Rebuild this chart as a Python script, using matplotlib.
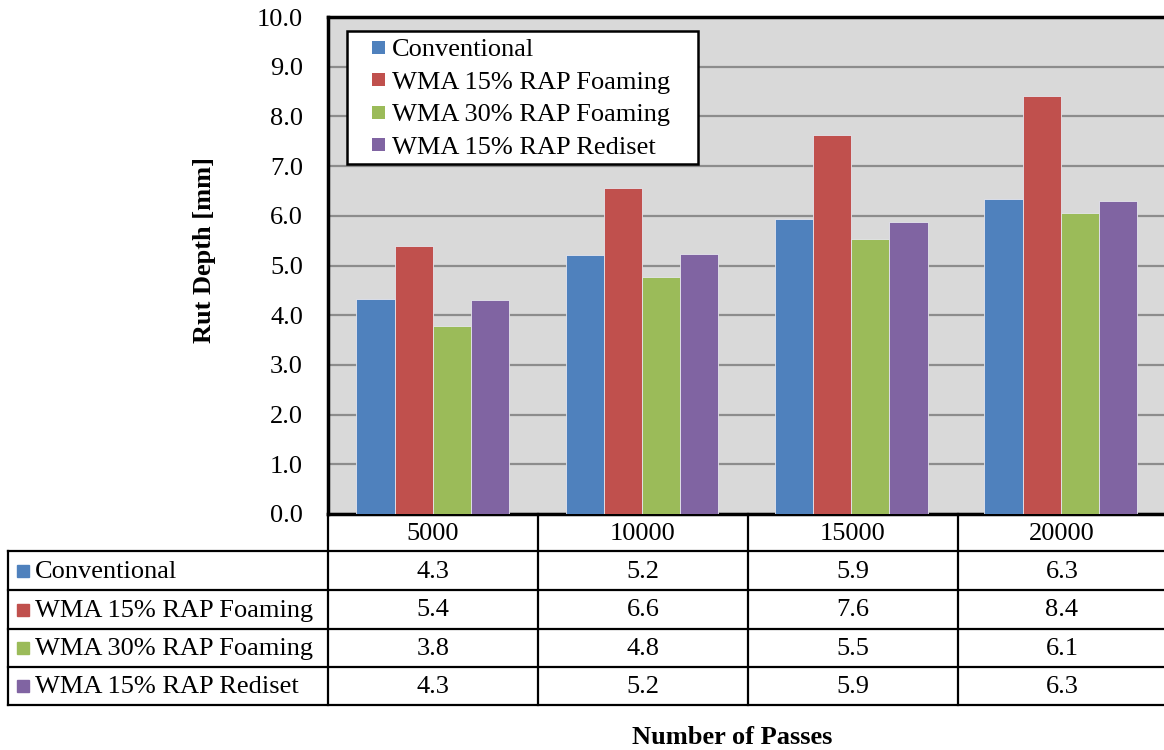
import numpy as np
import matplotlib.pyplot as plt
from matplotlib.patches import Rectangle
from matplotlib.legend_handler import HandlerPatch

passes = ['5000', '10000', '15000', '20000']
series = ['Conventional', 'WMA 15% RAP Foaming', 'WMA 30% RAP Foaming', 'WMA 15% RAP Rediset']
conventional = [4.33, 5.21, 5.94, 6.34]
wma15_foam = [5.39, 6.56, 7.63, 8.41]
wma30_foam = [3.78, 4.77, 5.53, 6.06]
wma15_rediset = [4.31, 5.23, 5.88, 6.30]
colors = ['#4f81bd', '#c0504d', '#9bbb59', '#8064a2']

values = [conventional, wma15_foam, wma30_foam, wma15_rediset]

plt.rcParams['font.family'] = ['Liberation Serif', 'DejaVu Serif']
FS = 19
W, H = 1164, 750
fig = plt.figure(figsize=(W / 100, H / 100), dpi=100)


def fx(px):
    return px / W


def fy(py):
    return 1 - py / H


# small square legend key sitting at the right side of the handle box
def small_square(legend, orig_handle, xdescent, ydescent, width, height, fontsize):
    s = 0.5 * fontsize
    return Rectangle((width - s - xdescent, (height - s) / 2 - ydescent), s, s)


plot_l, plot_r, plot_t, plot_b = 328, 1166, 17, 514
ax = fig.add_axes([fx(plot_l), fy(plot_b), fx(plot_r - plot_l), (plot_b - plot_t) / H])
ax.set_facecolor('#d9d9d9')

# overlay in pixel units (y down) for the table and labels
tax = fig.add_axes([0, 0, 1, 1])
tax.set_xlim(0, W)
tax.set_ylim(H, 0)
tax.axis('off')

x = np.arange(len(passes))
bw = 0.182
handles = []
for i, (name, vals) in enumerate(zip(series, values)):
    b = ax.bar(x + (i - 1.5) * bw, vals, bw, color=colors[i], label=name,
               edgecolor='#e6e6ee', linewidth=0.6, zorder=3)
    handles.append(b.patches[0])

ax.set_xlim(-0.5, len(passes) - 0.5 + 0.003)
ax.set_ylim(0, 10)
ax.set_yticks(np.arange(0, 10.1, 1.0))
ax.set_yticklabels([f'{v:.1f}' for v in np.arange(0, 10.1, 1.0)], fontsize=FS)
ax.tick_params(axis='y', length=0, pad=18)
ax.set_xticks([])
ax.grid(axis='y', color='#8c8c8c', linewidth=1.6, zorder=1)
for s in ax.spines.values():
    s.set_linewidth(2.5)
    s.set_color('black')
ax.spines['right'].set_visible(False)

# legend box (white, black border) drawn behind the legend entries
ax.add_patch(Rectangle((347, 31), 351, 133, transform=tax.transData, facecolor='white',
                       edgecolor='black', linewidth=1.8, zorder=4.5, clip_on=False))
leg = ax.legend(handles, series, loc='upper left', bbox_to_anchor=(363, 38),
                bbox_transform=tax.transData, fontsize=FS, frameon=False,
                handlelength=0.834, handletextpad=0.27,
                labelspacing=0.34, borderpad=0, borderaxespad=0,
                handler_map={Rectangle: HandlerPatch(patch_func=small_square)})
leg.set_zorder(5)
for h in leg.legend_handles:
    h.set_edgecolor('none')

# data table below the plot
col_edges = [328, 538, 748, 958, 1166]
row_edges = [514, 551, 590, 629, 667, 705]
tab_l = 8
lw = 1.6

for c in range(len(passes)):
    xc = (col_edges[c] + col_edges[c + 1]) / 2
    tax.text(xc, (row_edges[0] + row_edges[1]) / 2 + 1, passes[c], ha='center', va='center', fontsize=FS)
for xe in col_edges[:-1]:
    tax.plot([xe, xe], [row_edges[0], row_edges[-1]], color='black', lw=lw)
tax.plot([tab_l, tab_l], [row_edges[1], row_edges[-1]], color='black', lw=lw)
for ye in row_edges[1:]:
    tax.plot([tab_l, col_edges[-1]], [ye, ye], color='black', lw=lw)

for r, (name, vals) in enumerate(zip(series, values)):
    yc = (row_edges[r + 1] + row_edges[r + 2]) / 2
    tax.add_patch(Rectangle((17, yc - 6), 12, 12, color=colors[r]))
    tax.text(35, yc + 1, name, ha='left', va='center', fontsize=FS)
    for c, v in enumerate(vals):
        xc = (col_edges[c] + col_edges[c + 1]) / 2
        tax.text(xc, yc + 1, f'{v:.1f}', ha='center', va='center', fontsize=FS)

tax.text(205, 250, 'Rut Depth [mm]', rotation=90, ha='center', va='center',
         fontsize=FS, fontweight='bold')
tax.text(732, 738, 'Number of Passes', ha='center', va='center', fontsize=FS, fontweight='bold')

fig.savefig('out.png', dpi=100)
